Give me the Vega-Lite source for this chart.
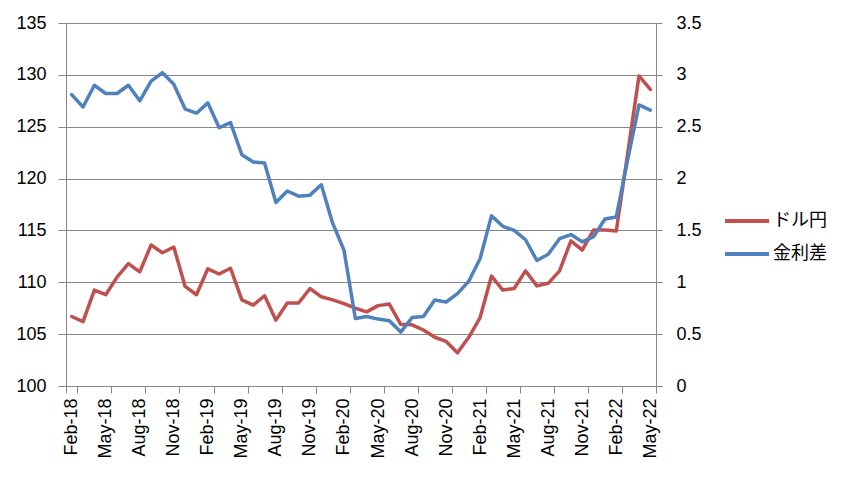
{
  "$schema": "https://vega.github.io/schema/vega-lite/v6.json",
  "autosize": {"type": "none"},
  "width": 590,
  "height": 363,
  "padding": {"left": 66, "top": 23, "right": 199, "bottom": 93},
  "background": "white",
  "config": {
    "view": {"stroke": null},
    "font": "Liberation Sans",
    "axis": {
      "labelFont": "Liberation Sans",
      "labelFontSize": 18,
      "labelColor": "#000000",
      "domainColor": "#878787",
      "tickColor": "#878787",
      "gridColor": "#878787",
      "gridOpacity": 1,
      "domainWidth": 1,
      "tickWidth": 1,
      "gridWidth": 1
    }
  },
  "data": {
    "values": [
      {"m": "Feb-18", "usd": 106.7, "spread": 2.81},
      {"m": "Mar-18", "usd": 106.2, "spread": 2.69},
      {"m": "Apr-18", "usd": 109.25, "spread": 2.9},
      {"m": "May-18", "usd": 108.8, "spread": 2.82},
      {"m": "Jun-18", "usd": 110.5, "spread": 2.82},
      {"m": "Jul-18", "usd": 111.8, "spread": 2.9},
      {"m": "Aug-18", "usd": 111.0, "spread": 2.75},
      {"m": "Sep-18", "usd": 113.6, "spread": 2.94},
      {"m": "Oct-18", "usd": 112.85, "spread": 3.02},
      {"m": "Nov-18", "usd": 113.4, "spread": 2.91},
      {"m": "Dec-18", "usd": 109.6, "spread": 2.67},
      {"m": "Jan-19", "usd": 108.8, "spread": 2.63},
      {"m": "Feb-19", "usd": 111.3, "spread": 2.73},
      {"m": "Mar-19", "usd": 110.8, "spread": 2.49},
      {"m": "Apr-19", "usd": 111.35, "spread": 2.54},
      {"m": "May-19", "usd": 108.3, "spread": 2.23},
      {"m": "Jun-19", "usd": 107.8, "spread": 2.16},
      {"m": "Jul-19", "usd": 108.7, "spread": 2.15},
      {"m": "Aug-19", "usd": 106.35, "spread": 1.77},
      {"m": "Sep-19", "usd": 108.0, "spread": 1.88},
      {"m": "Oct-19", "usd": 108.0, "spread": 1.83},
      {"m": "Nov-19", "usd": 109.4, "spread": 1.84},
      {"m": "Dec-19", "usd": 108.6, "spread": 1.94},
      {"m": "Jan-20", "usd": 108.3, "spread": 1.57},
      {"m": "Feb-20", "usd": 107.95, "spread": 1.31},
      {"m": "Mar-20", "usd": 107.5, "spread": 0.65},
      {"m": "Apr-20", "usd": 107.15, "spread": 0.67},
      {"m": "May-20", "usd": 107.75, "spread": 0.645},
      {"m": "Jun-20", "usd": 107.9, "spread": 0.63},
      {"m": "Jul-20", "usd": 105.95, "spread": 0.52},
      {"m": "Aug-20", "usd": 105.9, "spread": 0.66},
      {"m": "Sep-20", "usd": 105.4, "spread": 0.67},
      {"m": "Oct-20", "usd": 104.7, "spread": 0.83},
      {"m": "Nov-20", "usd": 104.3, "spread": 0.81},
      {"m": "Dec-20", "usd": 103.2, "spread": 0.89},
      {"m": "Jan-21", "usd": 104.7, "spread": 1.01},
      {"m": "Feb-21", "usd": 106.6, "spread": 1.23},
      {"m": "Mar-21", "usd": 110.6, "spread": 1.64},
      {"m": "Apr-21", "usd": 109.25, "spread": 1.54},
      {"m": "May-21", "usd": 109.4, "spread": 1.5},
      {"m": "Jun-21", "usd": 111.1, "spread": 1.41},
      {"m": "Jul-21", "usd": 109.65, "spread": 1.21},
      {"m": "Aug-21", "usd": 109.9, "spread": 1.27},
      {"m": "Sep-21", "usd": 111.1, "spread": 1.42},
      {"m": "Oct-21", "usd": 114.0, "spread": 1.46},
      {"m": "Nov-21", "usd": 113.1, "spread": 1.39},
      {"m": "Dec-21", "usd": 115.05, "spread": 1.44},
      {"m": "Jan-22", "usd": 115.05, "spread": 1.61},
      {"m": "Feb-22", "usd": 114.95, "spread": 1.63},
      {"m": "Mar-22", "usd": 122.4, "spread": 2.18},
      {"m": "Apr-22", "usd": 129.9, "spread": 2.71},
      {"m": "May-22", "usd": 128.6, "spread": 2.66}
    ]
  },
  "encoding": {
    "x": {
      "field": "m",
      "type": "ordinal",
      "sort": null,
      "bandPosition": 0.5,
      "scale": {"type": "band", "paddingInner": 0, "paddingOuter": 0},
      "axis": {
        "title": null,
        "values": ["Feb-18", "May-18", "Aug-18", "Nov-18", "Feb-19", "May-19", "Aug-19", "Nov-19", "Feb-20", "May-20", "Aug-20", "Nov-20", "Feb-21", "May-21", "Aug-21", "Nov-21", "Feb-22", "May-22"],
        "tickBand": "extent",
        "labelAngle": -90,
        "labelAlign": "right",
        "labelBaseline": "middle",
        "labelPadding": 5,
        "tickSize": 7,
        "grid": false
      }
    }
  },
  "layer": [
    {
      "mark": {"type": "line", "strokeWidth": 3.5, "strokeJoin": "round", "strokeCap": "round"},
      "encoding": {
        "y": {
          "field": "usd",
          "type": "quantitative",
          "scale": {"domain": [100, 135], "nice": false, "zero": false},
          "axis": {
            "title": null,
            "values": [100, 105, 110, 115, 120, 125, 130, 135],
            "grid": true,
            "tickSize": 8,
            "labelPadding": 12,
            "orient": "left"
          }
        },
        "color": {
          "datum": "ドル円",
          "type": "nominal",
          "scale": {"domain": ["ドル円", "金利差"], "range": ["#C0504D", "#4F81BD"]},
          "legend": {
            "title": null,
            "orient": "none",
            "legendX": 657,
            "legendY": 174,
            "padding": 0,
            "symbolType": "stroke",
            "symbolSize": 1936,
            "symbolStrokeWidth": 4,
            "labelFont": "Noto Sans CJK JP",
            "labelFontSize": 18,
            "labelColor": "#000000",
            "labelOffset": 2,
            "rowPadding": -3
          }
        }
      }
    },
    {
      "mark": {"type": "line", "strokeWidth": 3.5, "strokeJoin": "round", "strokeCap": "round"},
      "encoding": {
        "y": {
          "field": "spread",
          "type": "quantitative",
          "scale": {"domain": [0, 3.5], "nice": false},
          "axis": {
            "title": null,
            "orient": "right",
            "values": [0, 0.5, 1, 1.5, 2, 2.5, 3, 3.5],
            "format": "~g",
            "grid": false,
            "tickSize": 6,
            "labelPadding": 14
          }
        },
        "color": {"datum": "金利差", "type": "nominal"}
      }
    }
  ],
  "resolve": {"scale": {"y": "independent"}}
}
